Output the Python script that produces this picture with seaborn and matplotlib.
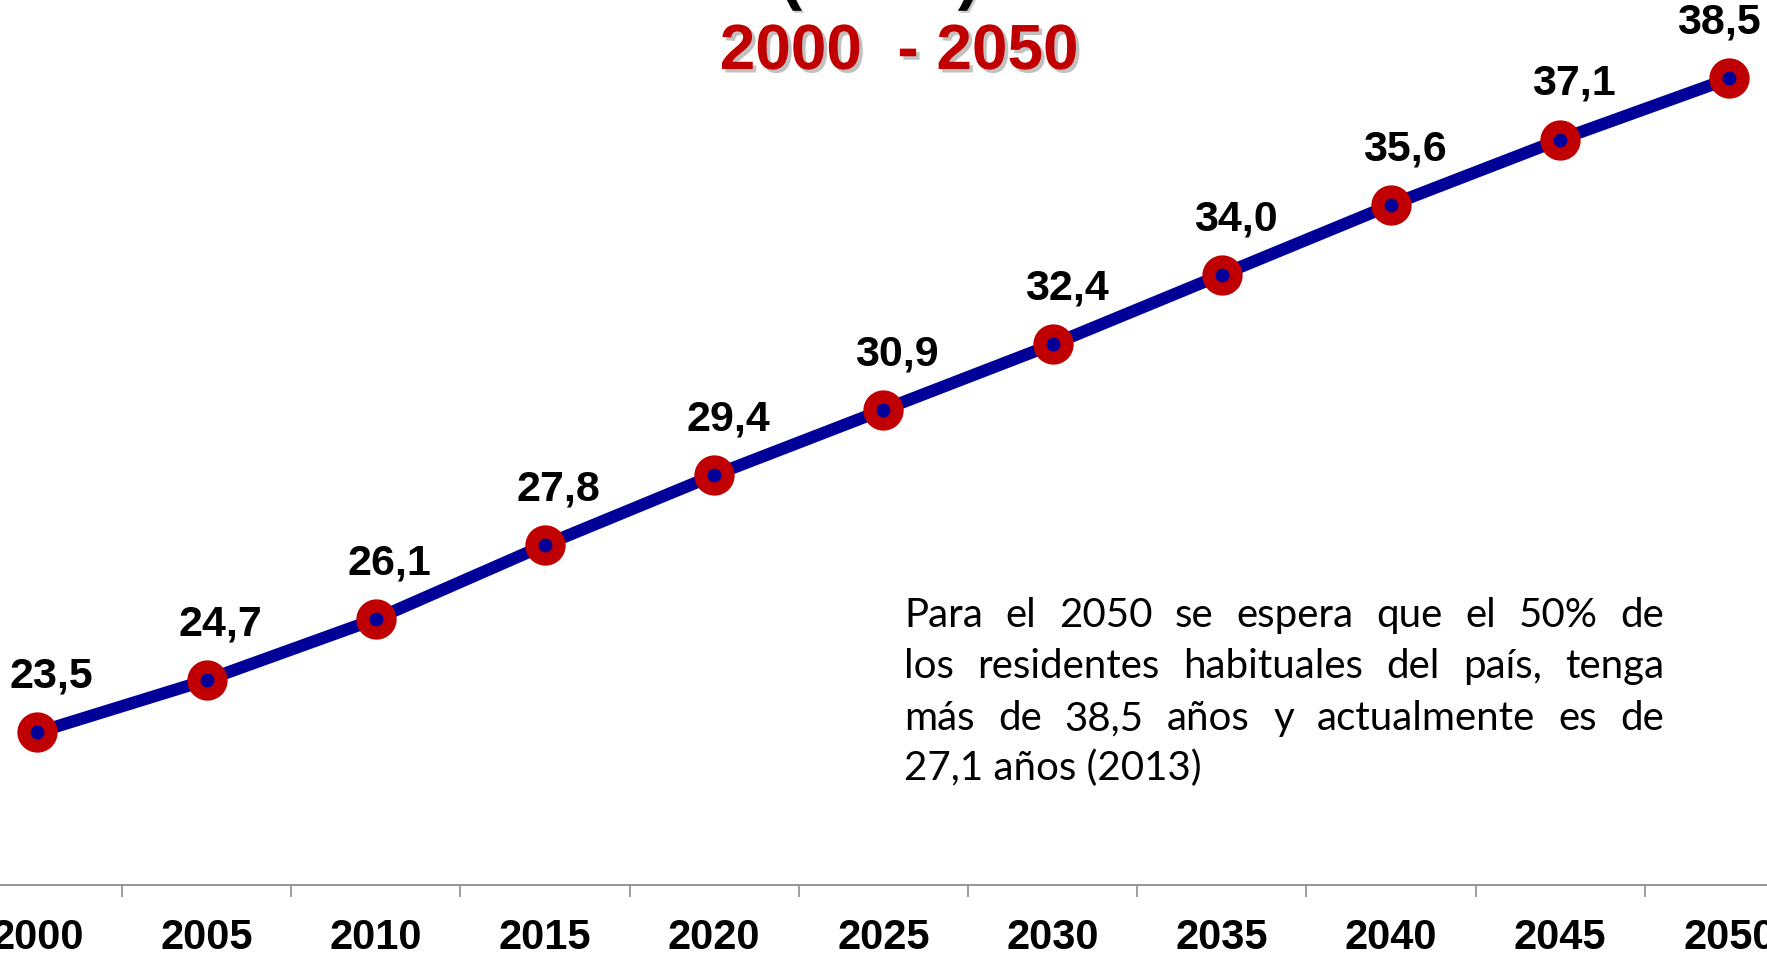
import numpy as np
import pandas as pd
import seaborn as sns
import matplotlib
matplotlib.use("Agg")
import matplotlib.pyplot as plt
import matplotlib.patheffects as pe
from matplotlib import font_manager as fm

# ---- data ----
years = ["2000", "2005", "2010", "2015", "2020", "2025", "2030", "2035", "2040", "2045", "2050"]
median_age = [23.5, 24.7, 26.1, 27.8, 29.4, 30.9, 32.4, 34.0, 35.6, 37.1, 38.5]
title_line = "2000  - 2050"
top_line = "(años)"
note_lines = [
    "Para el 2050 se espera que el  50% de",
    "los residentes habituales del país, tenga",
    "más de 38,5 años y actualmente es de",
    "27,1 años (2013)",
]

sns.set_theme(style="white")
plt.rcParams["font.family"] = ["Liberation Sans", "DejaVu Sans"]

names = {f.name for f in fm.fontManager.ttflist}

W, H = 1767, 959
fig = plt.figure(figsize=(W / 100, H / 100), dpi=100)
fig.patch.set_facecolor("white")

# axes extends a little beyond the canvas (cropped chart)
left_px, right_px = -47.3, 1814.0
bottom_px = 885.0
ax = fig.add_axes([left_px / W, (H - bottom_px) / H, (right_px - left_px) / W, bottom_px / H])
ax.set_facecolor("none")

df = pd.DataFrame({"pos": np.arange(len(years)), "age": median_age})
sns.lineplot(data=df, x="pos", y="age", ax=ax, color="#000099", lw=8.8,
             marker="o", markersize=19.5, markerfacecolor="#000099",
             markeredgecolor="#C00000", markeredgewidth=9.5, clip_on=False, zorder=3)

ax.set_xlim(-0.5, len(years) - 0.5)
ax.set_ylim(20.0, 40.3)

for s in ["left", "top", "right"]:
    ax.spines[s].set_visible(False)
ax.spines["bottom"].set_color("#8C8C8C")
ax.spines["bottom"].set_linewidth(1.3)

ax.set_xticks(np.arange(-0.5, len(years), 1.0))
ax.set_xticklabels([])
ax.tick_params(axis="x", which="major", length=8.5, width=1.2, color="#8C8C8C", direction="out", bottom=True)
ax.set_xticks(np.arange(len(years)), minor=True)
ax.set_xticklabels(years, minor=True, fontsize=30, fontweight="bold", color="black")
ax.tick_params(axis="x", which="minor", length=0, pad=24)
ax.set_yticks([])
ax.set_xlabel("")
ax.set_ylabel("")

fig.canvas.draw()
renderer = fig.canvas.get_renderer()

labels = []
for i, v in enumerate(median_age):
    t = ax.annotate(f"{v:.1f}".replace(".", ","), (i, v), xytext=(10, 40), textcoords="offset points",
                    ha="center", va="center", fontsize=31, fontweight="bold", color="black",
                    annotation_clip=False)
    labels.append(t)
# keep data labels inside the canvas (as the source chart does)
for t in labels:
    bb = t.get_window_extent(renderer)
    if bb.x1 > W - 6:
        dx_pt = (bb.x1 - (W - 6)) * 72 / 100
        x, y = t.xyann
        t.xyann = (x - dx_pt, y)

shadow = [pe.withSimplePatchShadow(offset=(2.5, -2.5), shadow_rgbFace="#999999", alpha=0.6)]
fig.text(899 / W, 1 - 52 / H, title_line, ha="center", va="center", fontsize=46,
         fontweight="bold", color="#C00000", path_effects=shadow)
fig.text(880 / W, 1 + 3 / H, top_line, ha="center", va="baseline", fontsize=48,
         fontweight="bold", color="black",
         path_effects=[pe.withSimplePatchShadow(offset=(1.5, -1.5), shadow_rgbFace="#999999", alpha=0.5)])

# justified note text; pick the narrowest available family and the largest size that fits
x0, x1 = 904, 1664
baselines = [627, 678, 730, 780]
best = None
for fam in ["Lato", "Roboto", "Liberation Sans Narrow", "Liberation Sans"]:
    if fam not in names:
        continue
    fams = [fam, "DejaVu Sans"]
    widest = 0
    for line in note_lines[:-1]:
        tt = fig.text(0, 0, line, fontsize=29, family=fams)
        widest = max(widest, tt.get_window_extent(renderer).width)
        tt.remove()
    size = min(29.0, 29.0 * (x1 - x0) * 0.96 / widest)
    if best is None or size > best[1]:
        best = (fams, size)
note_family, note_size = best

for li, (line, yb) in enumerate(zip(note_lines, baselines)):
    words = line.split()
    if li == len(note_lines) - 1 or len(words) == 1:
        fig.text(x0 / W, 1 - yb / H, line, ha="left", va="baseline", fontsize=note_size,
                 family=note_family, color="black")
        continue
    tmp = [fig.text(0, 0, w, fontsize=note_size, family=note_family) for w in words]
    widths = [t.get_window_extent(renderer).width for t in tmp]
    for t in tmp:
        t.remove()
    gap = (x1 - x0 - sum(widths)) / (len(words) - 1)
    x = x0
    for w, wd in zip(words, widths):
        fig.text(x / W, 1 - yb / H, w, ha="left", va="baseline", fontsize=note_size,
                 family=note_family, color="black")
        x += wd + gap

fig.savefig("out.png", dpi=100, facecolor="white")
